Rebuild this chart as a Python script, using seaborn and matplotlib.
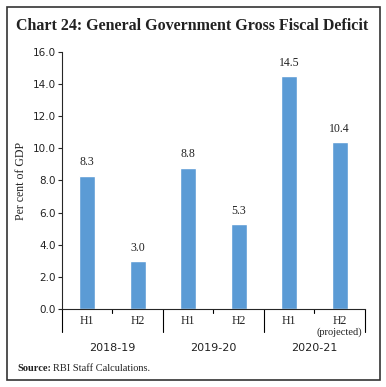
import matplotlib.pyplot as plt
import matplotlib.transforms as mtransforms
from matplotlib.patches import Rectangle
import seaborn as sns
import pandas as pd

# DATA
halves = ["H1", "H2", "H1", "H2", "H1", "H2"]
years = ["2018-19", "2019-20", "2020-21"]
deficit = [8.3, 3.0, 8.8, 5.3, 14.5, 10.4]
y_ticks = [0, 2, 4, 6, 8, 10, 12, 14, 16]

df = pd.DataFrame({
    "pos": [str(i) for i in range(len(deficit))],
    "valor": deficit
})

sns.set_style("ticks")
plt.rcParams["font.family"] = ["DejaVu Sans"]

fig = plt.figure(figsize=(3.86, 3.87), dpi=100)
ax = fig.add_axes([0.1606, 0.2016, 0.7850, 0.6640])

sns.barplot(
    data=df,
    x="pos",
    y="valor",
    color="#5B9BD5",
    saturation=1,
    width=0.32,
    ax=ax
)

# ETIQUETAS DE VALOR
for i, v in enumerate(deficit):
    ax.text(i, v + 0.45, f"{v:.1f}", ha="center", va="bottom",
            fontsize=8.5, family="Liberation Serif", color="#222222")

ax.set_xlim(-0.5, len(deficit) - 0.5)
ax.set_ylim(0, 16)
ax.set_yticks(y_ticks)
ax.set_yticklabels([f"{t:.1f}" for t in y_ticks], fontsize=7.5, color="#222222")
ax.tick_params(axis="y", length=3, width=0.8, pad=1.5)

ax.set_xticks(range(len(halves)))
ax.set_xticklabels(halves, fontsize=8.5, family="Liberation Serif", color="#222222")
ax.tick_params(axis="x", length=0, pad=4)

ax.set_xlabel("")
ax.set_ylabel("Per cent of GDP", fontsize=8.5, family="Liberation Serif",
              color="#222222", labelpad=4)

sns.despine(ax=ax)
ax.spines["left"].set_linewidth(0.8)
ax.spines["bottom"].set_linewidth(0.8)

# SEPARADORES
trans = mtransforms.blended_transform_factory(ax.transData, ax.transAxes)
for x in [-0.5, 1.5, 3.5, 5.5]:
    ax.plot([x, x], [0, -0.09], color="black", lw=0.8,
            transform=trans, clip_on=False)
for x in [0.5, 2.5, 4.5]:
    ax.plot([x, x], [0, -0.016], color="black", lw=0.8,
            transform=trans, clip_on=False)

ax.text(5, -0.09, "(projected)", transform=trans, ha="center", va="center",
        fontsize=7.5, family="Liberation Serif", color="#222222")

for j, y in enumerate(years):
    ax.text(2 * j + 0.5, -0.152, y, transform=trans, ha="center", va="center",
            fontsize=8, color="#222222")

# TITULO Y FUENTE
fig.text(0.042, 0.932, "Chart 24: General Government Gross Fiscal Deficit",
         fontsize=11.5, fontweight="bold", family="Liberation Serif",
         color="#222222", va="center")
fig.text(0.044, 0.049, "Source:", fontsize=7.5, fontweight="bold",
         family="Liberation Serif", color="#222222", va="center")
fig.text(0.137, 0.049, "RBI Staff Calculations.", fontsize=7.5,
         family="Liberation Serif", color="#222222", va="center")

fig.patches.append(Rectangle((0.018, 0.018), 0.966, 0.964, transform=fig.transFigure,
                             fill=False, edgecolor="#333333", lw=1.2))

plt.savefig("out.png", dpi=100)
plt.close()
